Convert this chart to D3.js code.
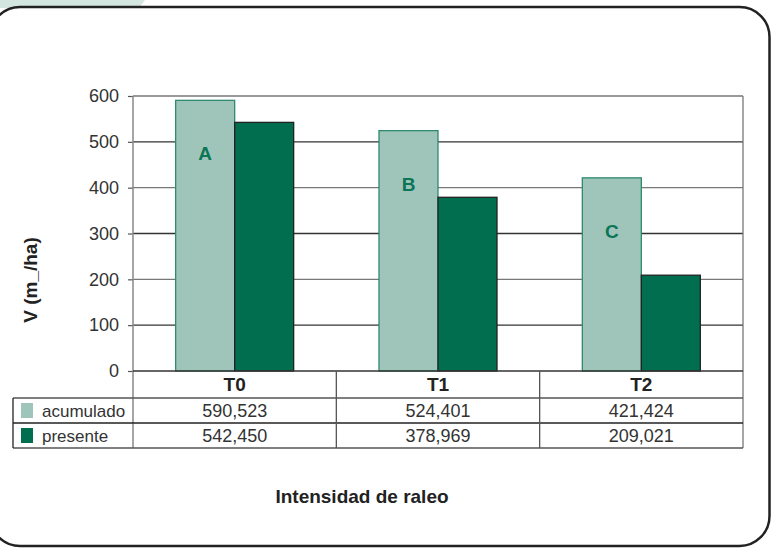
<!DOCTYPE html>
<html>
<head>
<meta charset="utf-8">
<script src="https://cdn.jsdelivr.net/npm/d3@7"></script>
<style>
  body { margin: 0; background: #fff; }
  svg { display: block; }
  text { font-family: "Liberation Sans", Arial, sans-serif; fill: #333; }
</style>
</head>
<body>
<script>
// data
var categories = ["T0", "T1", "T2"];
var seriesNames = ["acumulado", "presente"];
var acumulado = [590.523, 524.401, 421.424];
var presente = [542.450, 378.969, 209.021];
var tableLabels = [["590,523", "524,401", "421,424"], ["542,450", "378,969", "209,021"]];
var letters = ["A", "B", "C"];
var yTicks = [0, 100, 200, 300, 400, 500, 600];

var fills = ["#9fc5ba", "#026e50"],
    strokes = ["#2f8a6e", "#222"];

var W = 775, H = 548;
var plot = {left: 133, right: 743, top: 96, bottom: 371};

var svg = d3.select("body").append("svg")
    .attr("width", W)
    .attr("height", H);

// tab in top-left corner
svg.append("path")
    .attr("d", "M0,0 L145,0 L139,8 L0,8 Z")
    .attr("fill", "#d3e7e0");

// rounded frame
svg.append("rect")
    .attr("x", -10).attr("y", 7)
    .attr("width", 779.5).attr("height", 539)
    .attr("rx", 30).attr("ry", 30)
    .attr("fill", "#fff")
    .attr("stroke", "#222")
    .attr("stroke-width", 2.5);

var x = d3.scaleBand().domain(categories).range([plot.left, plot.right]);
var y = d3.scaleLinear().domain([0, 600]).range([plot.bottom, plot.top]);
var barW = 59;

// gridlines
svg.append("g").selectAll("line")
    .data(yTicks.slice(1))
  .enter().append("line")
    .attr("x1", plot.left).attr("x2", plot.right)
    .attr("y1", function(d) { return y(d); })
    .attr("y2", function(d) { return y(d); })
    .attr("stroke", function(d, i) { return i % 2 ? "#777" : "#333"; })
    .attr("stroke-width", 1.3);

// right border of plot
svg.append("line")
    .attr("x1", plot.right).attr("x2", plot.right)
    .attr("y1", plot.top).attr("y2", 448)
    .attr("stroke", "#777").attr("stroke-width", 1.3);

// y axis
var yAxis = d3.axisLeft(y).tickValues(yTicks).tickSize(5).tickPadding(9);
var gy = svg.append("g")
    .attr("transform", "translate(" + plot.left + ",0)")
    .call(yAxis);
gy.select(".domain").remove();
gy.selectAll(".tick line").attr("stroke", "#555").attr("stroke-width", 1.2);
gy.selectAll(".tick text")
    .style("font-size", "18px")
    .style("font-family", "'Liberation Sans', Arial, sans-serif")
    .attr("fill", "#333");
svg.append("line")
    .attr("x1", plot.left).attr("x2", plot.left)
    .attr("y1", plot.top).attr("y2", 448)
    .attr("stroke", "#888").attr("stroke-width", 1.5);

// bars
var series = [acumulado, presente];
series.forEach(function(vals, s) {
  svg.append("g").selectAll("rect")
      .data(vals)
    .enter().append("rect")
      .attr("x", function(d, i) { return x(categories[i]) + x.bandwidth() / 2 - barW + s * barW; })
      .attr("y", function(d) { return y(d); })
      .attr("width", barW)
      .attr("height", function(d) { return y(0) - y(d); })
      .attr("fill", fills[s])
      .attr("stroke", strokes[s])
      .attr("stroke-width", 1.3);
});

// letters
svg.append("g").selectAll("text")
    .data(letters)
  .enter().append("text")
    .attr("x", function(d, i) { return x(categories[i]) + x.bandwidth() / 2 - barW / 2; })
    .attr("y", function(d, i) { return y(acumulado[i]) + 60; })
    .attr("text-anchor", "middle")
    .style("font-size", "19px")
    .style("font-weight", "bold")
    .style("fill", "#0a7557")
    .text(function(d) { return d; });

// data table
var rowY = [371, 398, 423, 448];
var tbl = svg.append("g").attr("stroke", "#555").attr("stroke-width", 1.3);
tbl.append("line").attr("x1", 13).attr("x2", plot.right).attr("y1", rowY[1]).attr("y2", rowY[1]);
tbl.append("line").attr("x1", 13).attr("x2", plot.right).attr("y1", rowY[2]).attr("y2", rowY[2]).attr("stroke", "#222");
tbl.append("line").attr("x1", 13).attr("x2", plot.right).attr("y1", rowY[3]).attr("y2", rowY[3]);
tbl.append("line").attr("x1", 13).attr("x2", 13).attr("y1", rowY[1]).attr("y2", rowY[3]).attr("stroke", "#222");
tbl.append("line").attr("x1", plot.left).attr("x2", plot.right).attr("y1", rowY[0]).attr("y2", rowY[0]).attr("stroke", "#333");
tbl.selectAll(".vsep")
    .data(categories.slice(1))
  .enter().append("line")
    .attr("x1", function(d) { return x(d); })
    .attr("x2", function(d) { return x(d); })
    .attr("y1", rowY[0]).attr("y2", rowY[3]);

svg.append("g").selectAll("text")
    .data(categories)
  .enter().append("text")
    .attr("x", function(d) { return x(d) + x.bandwidth() / 2; })
    .attr("y", rowY[0] + 20)
    .attr("text-anchor", "middle")
    .style("font-size", "19px")
    .style("font-weight", "bold")
    .style("fill", "#222")
    .text(function(d) { return d; });

tableLabels.forEach(function(row, s) {
  svg.append("g").selectAll("text")
      .data(row)
    .enter().append("text")
      .attr("x", function(d, i) { return x(categories[i]) + x.bandwidth() / 2; })
      .attr("y", rowY[s + 1] + 19)
      .attr("text-anchor", "middle")
      .style("font-size", "18px")
      .text(function(d) { return d; });

  svg.append("rect")
      .attr("x", 21).attr("y", rowY[s + 1] + 5)
      .attr("width", 12).attr("height", 15)
      .attr("fill", fills[s]);
  svg.append("text")
      .attr("x", 42).attr("y", rowY[s + 1] + 19)
      .style("font-size", "17px")
      .text(seriesNames[s]);
});

// axis titles
svg.append("text")
    .attr("transform", "translate(37,280) rotate(-90)")
    .attr("text-anchor", "middle")
    .style("font-size", "19px")
    .style("font-weight", "bold")
    .style("fill", "#222")
    .text("V (m_/ha)");

svg.append("text")
    .attr("x", 362).attr("y", 503)
    .attr("text-anchor", "middle")
    .style("font-size", "19px")
    .style("font-weight", "bold")
    .style("fill", "#222")
    .text("Intensidad de raleo");
</script>
</body>
</html>
